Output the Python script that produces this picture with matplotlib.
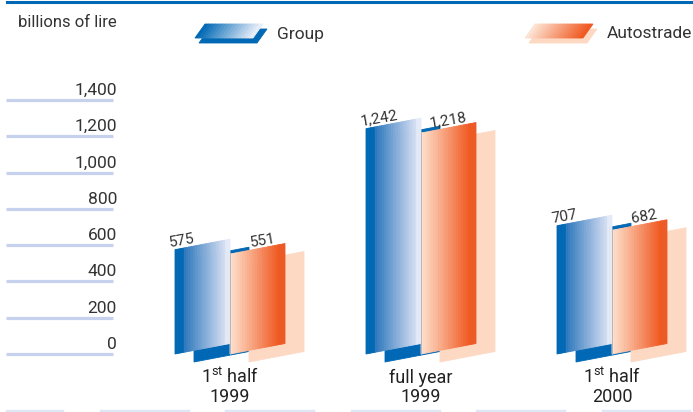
import matplotlib

matplotlib.use("Agg")

import numpy as np  # noqa: E402
import matplotlib.pyplot as plt  # noqa: E402
from matplotlib.colors import to_rgb  # noqa: E402
from matplotlib.lines import Line2D  # noqa: E402

# data
period_top = ["1$^{\\mathrm{st}}$ half", "full year", "1$^{\\mathrm{st}}$ half"]
period_year = ["1999", "1999", "2000"]
group_vals = [575, 1242, 707]
autostrade_vals = [551, 1218, 682]
y_ticks = [0, 200, 400, 600, 800, 1000, 1200, 1400]
series_names = ["Group", "Autostrade"]
unit_label = "billions of lire"

plt.rcParams["font.family"] = ["Roboto", "DejaVu Sans"]
plt.rcParams["mathtext.fontset"] = "custom"
plt.rcParams["mathtext.rm"] = "Roboto"

TXT = "#333333"
BLUE = "#0068b4"
PEACH = "#fdd9c4"

W, H = 693, 412
fig = plt.figure(figsize=(W / 100, H / 100), dpi=100)
ax = fig.add_axes([0, 0, 1, 1])

# 191 px per category, 254 px per 1400 lire, zero line 354 px from the top
XS = 191
YS = 254 / 1400
X0, Y0 = 230, 354
ax.set_xlim(-X0 / XS, (W - X0) / XS)
ax.set_ylim(-(H - Y0) / YS, Y0 / YS)
ax.axis("off")


def dx(p):
    return (p - X0) / XS


def dy(p):
    return (Y0 - p) / YS


def ramp(c0, c1, n):
    a, b = np.array(to_rgb(c0)), np.array(to_rgb(c1))
    return [tuple(a + (b - a) * t) for t in np.linspace(0, 1, n)]


def grad_para(origin, u, v, colors, z):
    """Parallelogram origin + s*u + t*v filled with strips along u."""
    o, u, v = np.array(origin), np.array(u), np.array(v)
    n = len(colors)
    for k, c in enumerate(colors):
        a = o + u * k / n
        b = o + u * (k + 1) / n
        pts = np.array([a, b, b + v, a + v])
        ax.fill(pts[:, 0], pts[:, 1], color=c, ec=c, lw=0.6, zorder=z)


blue_front = [BLUE] * 4 + ramp("#2f78bd", "#d3ddf1", 18) + ["#e4eaf7"] * 2
orange_front = ramp("#fee0cd", "#f05a22", 20) + ["#ec5a26"] * 2

bw = 55 / XS        # bar width
skew = 10.5 / YS    # rise of the bar across its width
sdx, sdy = 19 / XS, 8 / YS  # shadow offset

for i, (g, a) in enumerate(zip(group_vals, autostrade_vals)):
    # Group
    grad_para((i - bw + sdx, -sdy), (bw, skew), (0, g), [BLUE], 1)
    grad_para((i - bw, 0), (bw, skew), (0, g), blue_front, 2)
    # Autostrade
    grad_para((i + sdx, -sdy), (bw, skew), (0, a), [PEACH], 3)
    grad_para((i, 0), (bw, skew), (0, a), orange_front, 4)
    ax.plot([i, i], [0, a], color="#a9b0c0", lw=0.6, zorder=5)

    ax.text(i - bw - 5 / XS, g + 3 / YS, f"{g:,}", rotation=10,
            rotation_mode="anchor", ha="left", va="baseline",
            fontsize=11, color=TXT, zorder=6)
    ax.text(i + 46 / XS, a + skew * 46 / 55 + 3 / YS, f"{a:,}", rotation=10,
            rotation_mode="anchor", ha="right", va="baseline",
            fontsize=11, color=TXT, zorder=6)

    ax.text(i, dy(383), period_top[i], ha="center", va="baseline",
            fontsize=13, color="#222222")
    ax.text(i, dy(402), period_year[i], ha="center", va="baseline",
            fontsize=13, color="#222222")

# left-hand scale
ax.hlines(y_ticks, dx(6), dx(113), color="#c6d1ee", lw=2.3)
for t in y_ticks:
    ax.text(dx(117), t + 5 / YS, f"{t:,}", ha="right", va="baseline",
            fontsize=12.5, color=TXT)
ax.text(dx(117), dy(27), unit_label, ha="right", va="baseline",
        fontsize=12, color=TXT)

# legend
for name, left, front, back in [
    (series_names[0], 195, ramp(BLUE, "#e8eef9", 16), BLUE),
    (series_names[1], 525, ramp("#fde3d3", "#f05a22", 16), PEACH),
]:
    grad_para((dx(left + 4), dy(43)), (58 / XS, 0), (10 / XS, 14 / YS), [back], 7)
    grad_para((dx(left), dy(38)), (58 / XS, 0), (10 / XS, 14 / YS), front, 8)
    ax.text(dx(left + 82), dy(34), name, ha="left", va="center",
            fontsize=12.5, color=TXT)

# page rules
fig.add_artist(Line2D([7 / W, 1], [1 - 1.5 / H] * 2, color=BLUE, lw=2.2))
for s in np.arange(-25, W, 125.5):
    a, b = max(s, 7), min(s + 87, 689)
    fig.add_artist(Line2D([a / W, b / W], [1.5 / H] * 2, color="#dde7f6", lw=2.5))

fig.savefig("out.png", dpi=100)
plt.close(fig)
